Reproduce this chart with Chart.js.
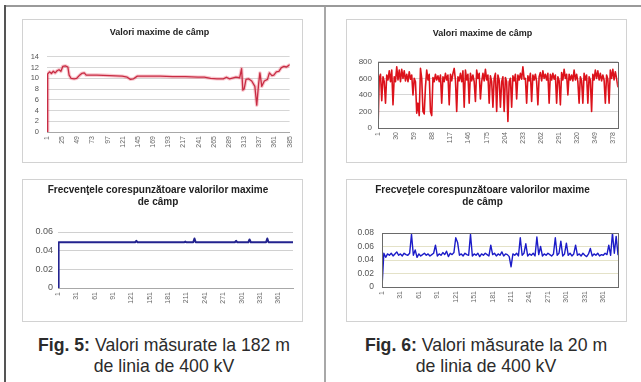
<!DOCTYPE html>
<html>
<head>
<meta charset="utf-8">
<script src="https://cdn.jsdelivr.net/npm/chart.js@4.4.1/dist/chart.umd.min.js"></script>
<style>
  body { margin: 0; width: 641px; height: 382px; position: relative; overflow: hidden; background: #fff;
         font-family: "Liberation Sans", Arial, sans-serif; }
  .box { position: absolute; border: 1px solid #d2d2d2; background: #fff; }
  .box canvas { display: block; }
  .rule { position: absolute; }
  .cap { position: absolute; width: 320px; text-align: center; font-size: 19px; line-height: 21px; color: #2b2b2b;
         transform: scaleX(0.93); white-space: nowrap; }
</style>
</head>
<body>
<div class="rule" style="left:4px;top:5px;width:637px;height:2px;background:#9a9a9a"></div>
<div class="rule" style="left:4px;top:5px;width:2px;height:377px;background:#555"></div>
<div class="rule" style="left:324px;top:7px;width:2px;height:375px;background:#a8a8a8"></div>

<div class="box" style="left:22px;top:19px"><canvas id="c1" width="279" height="142"></canvas></div>
<div class="box" style="left:346px;top:19px"><canvas id="c2" width="279" height="142"></canvas></div>
<div class="box" style="left:22px;top:179px"><canvas id="c3" width="279" height="141"></canvas></div>
<div class="box" style="left:346px;top:179px"><canvas id="c4" width="279" height="141"></canvas></div>

<div class="cap" style="left:4px;top:334px"><b>Fig. 5:</b> Valori măsurate la 182 m<br>de linia de 400 kV</div>
<div class="cap" style="left:326px;top:334px"><b>Fig. 6:</b> Valori măsurate la 20 m<br>de linia de 400 kV</div>

<script>
// --- Fig. 5, sus: valori maxime de camp (182 m)
const fig5X = [1, 2, 5, 8, 11, 14, 17, 20, 23, 26, 30, 34, 36, 39, 44, 48, 52, 56, 60, 63,
  66, 80, 100, 120, 128, 133, 138, 144, 160, 180, 200, 220, 240, 250, 260, 270, 280, 285, 290, 300,
  306, 309, 311, 313, 316, 320, 325, 330, 333, 336, 338, 341, 345, 350, 353, 357, 360, 364, 368, 372,
  376, 380, 385];
const fig5Field = [0, 10.8, 11.2, 10.9, 11.3, 11.0, 11.4, 11.6, 11.3, 12.2, 12.3, 12.1, 10.6, 10.0, 9.9, 10.0, 10.5, 10.9, 11.0, 10.6,
  10.6, 10.6, 10.5, 10.4, 10.2, 9.8, 9.9, 10.4, 10.4, 10.4, 10.3, 10.3, 10.2, 10.2, 10.0, 9.9, 9.9, 10.2, 9.9, 10.2,
  10.1, 11.8, 7.8, 8.0, 9.8, 9.9, 9.5, 8.5, 5.0, 9.0, 11.0, 8.5, 9.5, 9.8, 11.0, 10.5, 10.6, 11.2, 11.3, 12.0,
  12.2, 12.1, 12.5];
const fig5Ticks = [1, 25, 49, 73, 97, 121, 145, 169, 193, 217, 241, 265, 289, 313, 337, 361, 385];

// --- Fig. 5, jos: frecvente
const fig5FreqX = [1, 2, 127, 129, 131, 207, 209, 211, 222, 224, 226, 290, 292, 294, 312, 314, 316, 341, 343, 345, 385];
const fig5Freq = [0, 0.049, 0.049, 0.0505, 0.049, 0.049, 0.0497, 0.049, 0.049, 0.053, 0.049, 0.049, 0.0505, 0.049,
  0.049, 0.052, 0.049, 0.049, 0.053, 0.049, 0.049];
const freqTicks = [1, 31, 61, 91, 121, 151, 181, 211, 241, 271, 301, 331, 361];

// --- Fig. 6, sus: citite din 2 in 2 (1, 3, 5 ... 385)
const fig6Field = [0, 600, 650, 330, 620, 560, 300, 640, 580, 690,
  560, 700, 280, 620, 560, 740, 580, 700, 560, 710,
  600, 690, 570, 650, 560, 680, 590, 640, 400, 600,
  560, 180, 300, 150, 720, 600, 200, 170, 500, 700,
  580, 650, 200, 150, 610, 560, 650, 580, 630, 560,
  640, 300, 620, 560, 660, 580, 640, 280, 650, 570,
  660, 720, 580, 200, 620, 570, 660, 560, 690, 250,
  700, 580, 650, 300, 660, 570, 640, 560, 320, 700,
  600, 660, 350, 560, 660, 570, 710, 580, 640, 300,
  630, 560, 250, 600, 660, 200, 640, 580, 250, 560,
  620, 200, 610, 560, 80, 560, 600, 250, 630, 570,
  650, 350, 640, 580, 660, 590, 740, 590, 600, 300,
  630, 570, 660, 320, 640, 580, 650, 560, 280, 620,
  670, 570, 690, 600, 650, 580, 660, 300, 650, 580,
  660, 590, 640, 300, 620, 570, 280, 670, 580, 710,
  600, 650, 400, 650, 580, 640, 570, 700, 580, 650,
  560, 300, 620, 570, 300, 660, 580, 640, 300, 620,
  580, 200, 650, 580, 700, 600, 690, 580, 660, 570,
  640, 580, 300, 640, 590, 300, 700, 600, 710, 580,
  680, 600, 500];
const FIELD6_STEP = 2;

// --- Fig. 6, jos: citite din 3 in 3 (1, 4, 7 ... 385)
const fig6Freq = [0, 0.050, 0.044, 0.049, 0.047, 0.050, 0.046, 0.049, 0.052, 0.047, 0.049, 0.046, 0.050, 0.048, 0.047, 0.050, 0.078, 0.047, 0.055, 0.044,
  0.049, 0.046, 0.048, 0.050, 0.047, 0.049, 0.046, 0.048, 0.050, 0.062, 0.046, 0.049, 0.047, 0.051, 0.048, 0.053, 0.045, 0.050, 0.048, 0.051,
  0.073, 0.066, 0.047, 0.049, 0.046, 0.050, 0.048, 0.047, 0.078, 0.046, 0.049, 0.047, 0.050, 0.045, 0.049, 0.047, 0.050, 0.048, 0.046, 0.062,
  0.048, 0.050, 0.046, 0.049, 0.047, 0.052, 0.046, 0.049, 0.048, 0.045, 0.030, 0.049, 0.047, 0.050, 0.046, 0.073, 0.047, 0.050, 0.064, 0.046,
  0.049, 0.047, 0.050, 0.046, 0.074, 0.048, 0.060, 0.046, 0.049, 0.047, 0.050, 0.048, 0.046, 0.049, 0.073, 0.047, 0.050, 0.068, 0.046, 0.049,
  0.065, 0.047, 0.050, 0.046, 0.049, 0.062, 0.047, 0.049, 0.046, 0.050, 0.047, 0.045, 0.049, 0.057, 0.046, 0.049, 0.047, 0.050, 0.046, 0.048,
  0.047, 0.050, 0.048, 0.062, 0.047, 0.080, 0.050, 0.075, 0.048];
const FREQ6_STEP = 3;
const fig6Ticks = [1, 30, 59, 88, 117, 146, 175, 204, 233, 262, 291, 320, 349, 378];

Chart.defaults.font.family = '"Liberation Sans", Arial, sans-serif';

const pts = (xs, ys) => ys.map((y, i) => ({ x: xs[i], y }));
const stepPts = (ys, step) => ys.map((y, i) => ({ x: 1 + i * step, y }));

// chenar inchis in jurul zonei de plot (ca in Excel)
const plotFrame = {
  id: 'plotFrame',
  afterDatasetsDraw(chart, args, opts) {
    if (!opts.show) return;
    const a = chart.chartArea, c = chart.ctx;
    c.save();
    c.strokeStyle = '#6a6a6a';
    c.lineWidth = 1;
    c.strokeRect(Math.round(a.left) + 0.5, Math.round(a.top) + 0.5, Math.round(a.width), Math.round(a.height));
    c.restore();
  }
};

function lineChart(id, datasets, o) {
  return new Chart(document.getElementById(id), {
    type: 'line',
    data: { datasets },
    options: {
      responsive: false,
      animation: false,
      layout: { padding: { left: 0, top: 0, bottom: 0, right: o.padRight } },
      elements: { point: { radius: 0 }, line: { tension: 0, borderJoinStyle: 'round', borderCapStyle: 'round' } },
      plugins: {
        legend: { display: false },
        tooltip: { enabled: false },
        title: {
          display: true, text: o.title, color: '#222',
          font: { size: o.titleSize, weight: 'bold', lineHeight: 1.2 },
          padding: o.titlePad
        },
        plotFrame: { show: o.frame }
      },
      scales: {
        x: {
          type: 'linear', min: 1, max: 385,
          afterBuildTicks: a => { a.ticks = o.xTicks.map(v => ({ value: v })); },
          afterFit: a => { a.height = o.xH; },
          ticks: { autoSkip: false, maxRotation: 90, minRotation: 90, padding: 4, color: '#666', font: { size: 7 } },
          grid: { display: false, drawTicks: false },
          border: { display: !o.frame, color: '#a8a8a8', dash: [1, 1] }
        },
        y: {
          min: 0, max: o.yMax,
          afterFit: a => { a.width = o.yW; },
          ticks: { autoSkip: false, stepSize: o.yStep, padding: o.yPad, color: '#555', font: { size: o.yFont } },
          grid: { color: o.grid, drawTicks: false },
          border: { display: false }
        }
      }
    },
    plugins: [plotFrame]
  });
}

lineChart('c1', [
  { data: pts(fig5X, fig5Field), borderColor: 'rgba(235,90,110,0.35)', borderWidth: 3.5 },
  { data: pts(fig5X, fig5Field), borderColor: '#b5152e', borderWidth: 1.3 }
], { title: 'Valori maxime de câmp', titleSize: 9, titlePad: { top: 7, bottom: 19 }, padRight: 6,
     xTicks: fig5Ticks, xH: 30, yMax: 14, yStep: 2, yW: 24, yPad: 8, yFont: 7.5, grid: '#d6d6d6', frame: false });

lineChart('c2', [
  { data: stepPts(fig6Field, FIELD6_STEP), borderColor: '#dc121b', borderWidth: 1.6 }
], { title: 'Valori maxime de câmp', titleSize: 9, titlePad: { top: 8, bottom: 23 }, padRight: 8,
     xTicks: fig6Ticks, xH: 34, yMax: 800, yStep: 200, yW: 31, yPad: 6, yFont: 8, grid: '#d6d6d6', frame: true });

lineChart('c3', [
  { data: pts(fig5FreqX, fig5Freq), borderColor: '#23238f', borderWidth: 2 }
], { title: ['Frecvenţele corespunzătoare valorilor maxime', 'de câmp'], titleSize: 10, titlePad: { top: 4, bottom: 24 }, padRight: 9,
     xTicks: freqTicks, xH: 33, yMax: 0.06, yStep: 0.02, yW: 35, yPad: 5, yFont: 9, grid: '#d0d0d0', frame: false });

lineChart('c4', [
  { data: stepPts(fig6Freq, FREQ6_STEP), borderColor: '#1c1cc8', borderWidth: 1.4 }
], { title: ['Frecveţele corespunzătoare valorilor maxime', 'de câmp'], titleSize: 10, titlePad: { top: 4, bottom: 25 }, padRight: 8,
     xTicks: freqTicks, xH: 34, yMax: 0.08, yStep: 0.02, yW: 35, yPad: 8, yFont: 8.5, grid: '#e4e2c8', frame: true });
</script>
</body>
</html>
